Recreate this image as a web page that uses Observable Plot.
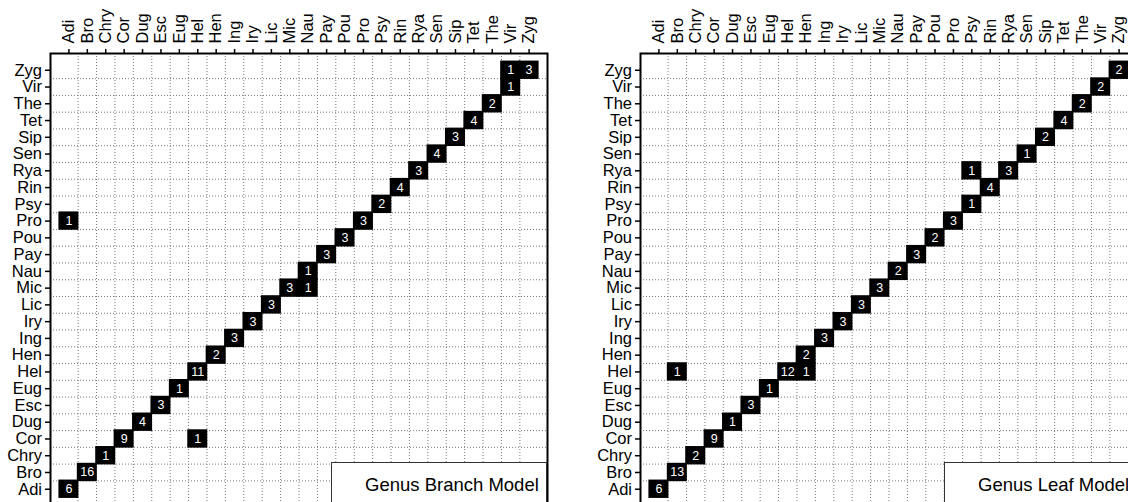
<!DOCTYPE html>
<html>
<head>
<meta charset="utf-8">
<script src="https://cdn.jsdelivr.net/npm/d3@7"></script>
<script src="https://cdn.jsdelivr.net/npm/@observablehq/plot@0.6"></script>
<style>
  html, body { margin: 0; padding: 0; background: #fff; }
  #wrap {
    position: relative; width: 1128px; height: 502px; overflow: hidden;
    display: flex; font-family: "Liberation Sans", Arial, sans-serif;
  }
  .panel { position: relative; flex: none; width: 564px; height: 502px; }
  .panel svg { display: block; max-width: none !important; height: auto; }
  .legend {
    position: absolute; top: 461.5px; height: 60px; box-sizing: border-box;
    background: #fff; border: 1px solid #333;
    font-size: 18.5px; line-height: 18px; color: #000; white-space: nowrap;
  }
  .legend span { position: absolute; left: 33px; top: 13px; }
</style>
</head>
<body>
<div id="wrap"></div>
<script>
// Genus codes, in axis order (bottom-to-top on y, left-to-right on x)
const genera = ["Adi","Bro","Chry","Cor","Dug","Esc","Eug","Hel","Hen","Ing","Iry","Lic","Mic",
                "Nau","Pay","Pou","Pro","Psy","Rin","Rya","Sen","Sip","Tet","The","Vir","Zyg"];

// Genus Branch Model: actual genus (row), predicted genus (column), count
const branchRow  = ["Adi","Bro","Chry","Cor","Cor","Dug","Esc","Eug","Hel","Hen","Ing","Iry","Lic","Mic","Mic",
                    "Nau","Pay","Pou","Pro","Pro","Psy","Rin","Rya","Sen","Sip","Tet","The","Vir","Zyg","Zyg"];
const branchCol  = ["Adi","Bro","Chry","Cor","Hel","Dug","Esc","Eug","Hel","Hen","Ing","Iry","Lic","Mic","Nau",
                    "Nau","Pay","Pou","Pro","Adi","Psy","Rin","Rya","Sen","Sip","Tet","The","Vir","Vir","Zyg"];
const branchN    = [6,16,1,9,1,4,3,1,11,2,3,3,3,3,1,
                    1,3,3,3,1,2,4,3,4,3,4,2,1,1,3];

// Genus Leaf Model: actual genus (row), predicted genus (column), count
const leafRow = ["Adi","Bro","Chry","Cor","Dug","Esc","Eug","Hel","Hel","Hel","Hen","Ing","Iry","Lic","Mic",
                 "Nau","Pay","Pou","Pro","Psy","Rin","Rya","Rya","Sen","Sip","Tet","The","Vir","Zyg"];
const leafCol = ["Adi","Bro","Chry","Cor","Dug","Esc","Eug","Bro","Hel","Hen","Hen","Ing","Iry","Lic","Mic",
                 "Nau","Pay","Pou","Pro","Psy","Rin","Psy","Rya","Sen","Sip","Tet","The","Vir","Zyg"];
const leafN   = [6,13,2,9,1,3,1,1,12,1,2,3,3,3,3,
                 2,3,2,3,1,4,1,3,1,2,4,2,2,2];

const pos = g => genera.indexOf(g) + 1;               // 1..26, one slot of padding each side
const slots = d3.range(1, genera.length + 1);
const boundaries = d3.range(1.5, genera.length, 1);  // lines between neighbouring genera

function confusionPanel({rows, cols, counts, title, marginLeft, width, legendLeft}) {
  const data = rows.map((r, i) => ({row: r, col: cols[i], n: counts[i]}));
  const grid = {stroke: "#7a7a7a", strokeWidth: 1, strokeDasharray: "1,2"};
  const chart = Plot.plot({
    width, height: 520,
    marginLeft, marginRight: 17, marginTop: 53, marginBottom: 14.5,
    style: {fontFamily: "'Liberation Sans', Arial, sans-serif", fontSize: "16px", color: "#000", background: "#fff", overflow: "visible"},
    x: {domain: [0, genera.length + 1], axis: null},
    y: {domain: [0, genera.length + 1], axis: null},
    marks: [
      Plot.ruleX(boundaries, grid),
      Plot.ruleY(boundaries, grid),
      Plot.rect(data, {
        x1: d => pos(d.col) - 0.5, x2: d => pos(d.col) + 0.5,
        y1: d => pos(d.row) - 0.5, y2: d => pos(d.row) + 0.5,
        fill: "#000", inset: -0.8
      }),
      Plot.text(data, {x: d => pos(d.col), y: d => pos(d.row), text: "n", fill: "#fff", fontSize: 12.5}),
      Plot.axisX(slots, {
        anchor: "top", tickFormat: i => genera[i - 1], tickRotate: -90,
        tickSize: 5, tickPadding: 5, strokeWidth: 1.5, label: null, fontSize: 16.5
      }),
      Plot.axisY(slots, {
        anchor: "left", tickFormat: i => genera[i - 1],
        tickSize: 5, tickPadding: 3.5, strokeWidth: 1.5, label: null, fontSize: 16.5
      }),
      Plot.frame({stroke: "#000", strokeWidth: 2})
    ]
  });
  const div = document.createElement("div");
  div.className = "panel";
  div.appendChild(chart);
  const frameRight = width - 17;
  const legend = document.createElement("div");
  legend.className = "legend";
  legend.style.left = legendLeft + "px";
  legend.style.width = (frameRight - legendLeft) + "px";
  const label = document.createElement("span");
  label.textContent = title;
  legend.appendChild(label);
  div.appendChild(legend);
  return div;
}

const wrap = document.getElementById("wrap");
wrap.appendChild(confusionPanel({
  rows: branchRow, cols: branchCol, counts: branchN,
  title: "Genus Branch Model", marginLeft: 50, width: 564, legendLeft: 331
}));
wrap.appendChild(confusionPanel({
  rows: leafRow, cols: leafCol, counts: leafN,
  title: "Genus Leaf Model", marginLeft: 76, width: 590, legendLeft: 380
}));
</script>
</body>
</html>
